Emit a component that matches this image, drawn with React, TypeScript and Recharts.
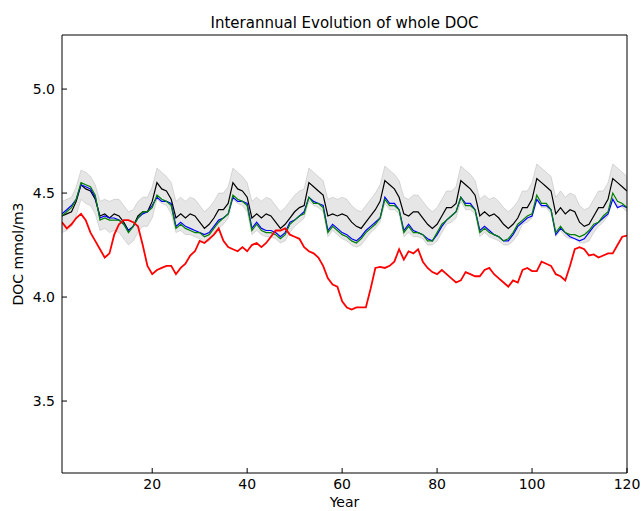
import { ComposedChart, Line, Area, XAxis, YAxis } from "recharts";

const years = Array.from({ length: 120 }, (_, i) => i + 1);

const blackMean = [
  4.39, 4.40, 4.41, 4.46,
  4.54, 4.52, 4.51, 4.47, 4.39, 4.40, 4.38, 4.40, 4.39, 4.36, 4.32, 4.34, 4.39, 4.41, 4.41, 4.46,
  4.55, 4.52, 4.51, 4.47, 4.38, 4.40, 4.38, 4.40, 4.39, 4.36, 4.33, 4.35, 4.38, 4.42, 4.42, 4.45,
  4.55, 4.52, 4.51, 4.48, 4.38, 4.40, 4.38, 4.40, 4.39, 4.36, 4.33, 4.35, 4.38, 4.41, 4.43, 4.44,
  4.55, 4.53, 4.51, 4.49, 4.39, 4.40, 4.39, 4.40, 4.39, 4.36, 4.34, 4.33, 4.36, 4.39, 4.42, 4.46,
  4.56, 4.54, 4.52, 4.48, 4.40, 4.39, 4.41, 4.41, 4.38, 4.35, 4.33, 4.35, 4.39, 4.43, 4.43, 4.45,
  4.56, 4.54, 4.52, 4.49, 4.39, 4.41, 4.39, 4.40, 4.38, 4.35, 4.33, 4.35, 4.38, 4.43, 4.43, 4.47,
  4.57, 4.55, 4.53, 4.51, 4.40, 4.43, 4.40, 4.42, 4.41, 4.36, 4.34, 4.35, 4.39, 4.43, 4.43, 4.47,
  4.57, 4.55, 4.53, 4.51,
];

const blueRun = [
  4.40, 4.42, 4.44, 4.47,
  4.54, 4.53, 4.52, 4.48, 4.38, 4.39, 4.38, 4.38, 4.37, 4.35, 4.32, 4.34, 4.38, 4.40, 4.41, 4.44,
  4.48, 4.46, 4.46, 4.45, 4.34, 4.36, 4.34, 4.33, 4.32, 4.31, 4.30, 4.31, 4.34, 4.37, 4.38, 4.40,
  4.48, 4.46, 4.46, 4.45, 4.33, 4.36, 4.33, 4.32, 4.32, 4.31, 4.29, 4.31, 4.36, 4.37, 4.39, 4.41,
  4.48, 4.46, 4.45, 4.44, 4.32, 4.35, 4.33, 4.31, 4.30, 4.28, 4.27, 4.29, 4.32, 4.34, 4.36, 4.38,
  4.48, 4.45, 4.45, 4.42, 4.32, 4.35, 4.32, 4.31, 4.30, 4.28, 4.27, 4.30, 4.34, 4.37, 4.39, 4.41,
  4.48, 4.45, 4.45, 4.42, 4.32, 4.34, 4.32, 4.30, 4.29, 4.27, 4.27, 4.30, 4.34, 4.36, 4.38, 4.39,
  4.47, 4.44, 4.44, 4.42, 4.30, 4.33, 4.31, 4.29, 4.28, 4.27, 4.28, 4.31, 4.34, 4.36, 4.38, 4.40,
  4.47, 4.43, 4.44, 4.43,
];

const greenRun = [
  4.39, 4.41, 4.43, 4.47,
  4.55, 4.54, 4.53, 4.49, 4.37, 4.38, 4.37, 4.37, 4.37, 4.35, 4.31, 4.34, 4.38, 4.41, 4.41, 4.43,
  4.49, 4.47, 4.46, 4.44, 4.33, 4.35, 4.33, 4.32, 4.31, 4.31, 4.29, 4.30, 4.33, 4.36, 4.38, 4.40,
  4.49, 4.47, 4.46, 4.44, 4.32, 4.35, 4.32, 4.31, 4.31, 4.30, 4.28, 4.30, 4.35, 4.37, 4.39, 4.40,
  4.48, 4.45, 4.45, 4.43, 4.31, 4.34, 4.32, 4.30, 4.29, 4.27, 4.26, 4.28, 4.31, 4.33, 4.35, 4.38,
  4.47, 4.44, 4.44, 4.42, 4.31, 4.34, 4.31, 4.31, 4.30, 4.27, 4.27, 4.31, 4.35, 4.37, 4.39, 4.41,
  4.48, 4.44, 4.44, 4.42, 4.31, 4.33, 4.31, 4.30, 4.29, 4.27, 4.28, 4.31, 4.35, 4.37, 4.39, 4.40,
  4.49, 4.45, 4.45, 4.42, 4.31, 4.34, 4.31, 4.30, 4.30, 4.29, 4.30, 4.32, 4.35, 4.36, 4.39, 4.41,
  4.50, 4.46, 4.45, 4.43,
];

const redRun = [
  4.36, 4.33, 4.35, 4.38, 4.40, 4.37, 4.31, 4.27, 4.23, 4.19, 4.21, 4.30, 4.35, 4.37, 4.37, 4.36, 4.34, 4.25, 4.15, 4.11,
  4.13, 4.14, 4.15, 4.15, 4.11, 4.14, 4.16, 4.20, 4.22, 4.27, 4.26, 4.28, 4.30, 4.33, 4.27, 4.24, 4.23, 4.22, 4.24, 4.22,
  4.25, 4.26, 4.24, 4.26, 4.29, 4.32, 4.32, 4.33, 4.30, 4.29, 4.28, 4.24, 4.22, 4.21, 4.19, 4.15, 4.09, 4.06, 4.05, 3.98,
  3.95, 3.94, 3.95, 3.95, 3.95, 4.04, 4.14, 4.145, 4.14, 4.15, 4.17, 4.23, 4.18, 4.22, 4.21, 4.23, 4.17, 4.14, 4.12, 4.11,
  4.13, 4.11, 4.09, 4.07, 4.08, 4.12, 4.11, 4.10, 4.10, 4.13, 4.14, 4.11, 4.09, 4.07, 4.05, 4.08, 4.07, 4.13, 4.14, 4.125,
  4.125, 4.17, 4.16, 4.15, 4.11, 4.10, 4.08, 4.15, 4.23, 4.24, 4.23, 4.20, 4.205, 4.19, 4.20, 4.21, 4.21, 4.25, 4.29, 4.295,
];

const bandHigh = [
  4.46, 4.47, 4.48, 4.53,
  4.61, 4.60, 4.58, 4.54, 4.46, 4.47, 4.46, 4.47, 4.47, 4.44, 4.41, 4.42, 4.46, 4.48, 4.48, 4.53,
  4.62, 4.60, 4.58, 4.55, 4.46, 4.48, 4.46, 4.48, 4.47, 4.44, 4.41, 4.43, 4.46, 4.50, 4.50, 4.53,
  4.62, 4.60, 4.58, 4.55, 4.46, 4.48, 4.46, 4.48, 4.47, 4.44, 4.41, 4.43, 4.46, 4.49, 4.51, 4.52,
  4.62, 4.60, 4.58, 4.56, 4.47, 4.48, 4.47, 4.48, 4.47, 4.44, 4.42, 4.41, 4.44, 4.47, 4.50, 4.54,
  4.63, 4.61, 4.59, 4.56, 4.48, 4.47, 4.49, 4.49, 4.46, 4.43, 4.41, 4.43, 4.47, 4.51, 4.51, 4.53,
  4.63, 4.61, 4.59, 4.56, 4.47, 4.49, 4.47, 4.48, 4.46, 4.43, 4.41, 4.43, 4.46, 4.51, 4.51, 4.55,
  4.64, 4.62, 4.60, 4.58, 4.48, 4.51, 4.48, 4.50, 4.49, 4.44, 4.42, 4.43, 4.47, 4.51, 4.51, 4.55,
  4.64, 4.62, 4.60, 4.58,
];

const bandLow = [
  4.31, 4.32, 4.34, 4.39,
  4.47, 4.45, 4.44, 4.40, 4.32, 4.33, 4.31, 4.32, 4.31, 4.28, 4.25, 4.27, 4.31, 4.34, 4.34, 4.38,
  4.47, 4.45, 4.44, 4.40, 4.31, 4.32, 4.30, 4.30, 4.29, 4.28, 4.26, 4.27, 4.30, 4.33, 4.35, 4.38,
  4.47, 4.45, 4.44, 4.41, 4.30, 4.32, 4.30, 4.29, 4.29, 4.28, 4.26, 4.27, 4.31, 4.34, 4.36, 4.38,
  4.46, 4.44, 4.43, 4.41, 4.29, 4.32, 4.30, 4.28, 4.27, 4.25, 4.24, 4.25, 4.28, 4.31, 4.33, 4.36,
  4.45, 4.42, 4.42, 4.40, 4.29, 4.31, 4.29, 4.29, 4.28, 4.25, 4.25, 4.27, 4.31, 4.35, 4.36, 4.38,
  4.46, 4.42, 4.42, 4.40, 4.29, 4.31, 4.29, 4.28, 4.27, 4.25, 4.25, 4.27, 4.30, 4.35, 4.36, 4.38,
  4.47, 4.43, 4.43, 4.40, 4.29, 4.32, 4.29, 4.28, 4.28, 4.26, 4.26, 4.27, 4.31, 4.34, 4.36, 4.39,
  4.48, 4.44, 4.43, 4.41,
];

const xTicks = [20, 40, 60, 80, 100, 120];
const yTicks = [3.5, 4.0, 4.5, 5.0];

const data = years.map((year, i) => ({
  year,
  mean: blackMean[i],
  blue: blueRun[i],
  green: greenRun[i],
  red: redRun[i],
  band: [bandLow[i], bandHigh[i]],
}));

const font = "DejaVu Sans";
const tickStyle = { fill: "#000", fontSize: 14, fontFamily: font };

export default function App() {
  return (
    <div style={{ position: "absolute", left: 0, top: 0, width: 641, height: 511, background: "#fff", fontFamily: font }}>
      <ComposedChart width={641} height={511} data={data} margin={{ top: 34, right: 13, bottom: 0, left: 0 }}>
        <XAxis
          dataKey="year"
          type="number"
          domain={[1, 120]}
          ticks={xTicks}
          allowDataOverflow
          height={38}
          tickSize={-5}
          tickMargin={11}
          tick={tickStyle}
          stroke="#000"
          tickLine={{ stroke: "#000" }}
        />
        <XAxis
          xAxisId="top"
          orientation="top"
          dataKey="year"
          type="number"
          domain={[1, 120]}
          ticks={xTicks}
          allowDataOverflow
          height={1}
          tickSize={-5}
          tick={false}
          stroke="#000"
          tickLine={{ stroke: "#000" }}
        />
        <YAxis
          type="number"
          domain={[3.154, 5.26]}
          ticks={yTicks}
          allowDataOverflow
          width={62}
          tickSize={-5}
          tickMargin={12}
          tick={tickStyle}
          tickFormatter={(v: number) => v.toFixed(1)}
          stroke="#000"
          tickLine={{ stroke: "#000" }}
        />
        <YAxis
          yAxisId="right"
          orientation="right"
          type="number"
          domain={[3.154, 5.26]}
          ticks={yTicks}
          allowDataOverflow
          width={1}
          tickSize={-5}
          tick={false}
          stroke="#000"
          tickLine={{ stroke: "#000" }}
        />
        <Area
          type="linear"
          dataKey="band"
          fill="#808080"
          fillOpacity={0.2}
          stroke="#808080"
          strokeOpacity={0.25}
          strokeWidth={1}
          dot={false}
          activeDot={false}
          isAnimationActive={false}
        />
        <Line type="linear" dataKey="mean" stroke="#000000" strokeWidth={1.2} dot={false} activeDot={false} isAnimationActive={false} />
        <Line type="linear" dataKey="blue" stroke="#0000ff" strokeWidth={1.2} dot={false} activeDot={false} isAnimationActive={false} />
        <Line type="linear" dataKey="green" stroke="#008000" strokeWidth={1.2} dot={false} activeDot={false} isAnimationActive={false} />
        <Line type="linear" dataKey="red" stroke="#ff0000" strokeWidth={1.8} dot={false} activeDot={false} isAnimationActive={false} />
      </ComposedChart>
      <div style={{ position: "absolute", left: 62, width: 565, top: 16, fontSize: 15, lineHeight: "15px", textAlign: "center", color: "#000" }}>
        Interannual Evolution of whole DOC
      </div>
      <div style={{ position: "absolute", left: 62, width: 565, top: 495, fontSize: 14, lineHeight: "14px", textAlign: "center", color: "#000" }}>
        Year
      </div>
      <div
        style={{
          position: "absolute",
          left: 18 - 100,
          top: 254 - 7,
          width: 200,
          fontSize: 14,
          lineHeight: "14px",
          textAlign: "center",
          color: "#000",
          transform: "rotate(-90deg)",
        }}
      >
        DOC mmol/m3
      </div>
    </div>
  );
}
